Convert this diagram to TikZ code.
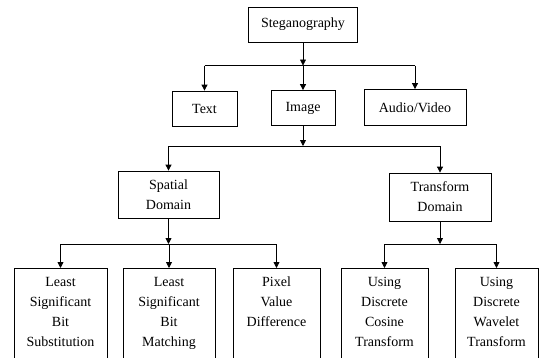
\documentclass[tikz,border=0pt]{standalone}
\usepackage{fontspec}
\setmainfont{Liberation Serif}
\usetikzlibrary{arrows.meta}

\tikzset{
    box/.style={draw, line width=0.8pt, align=center, inner sep=3pt,
        font=\fontsize{14}{20}\selectfont},
    leaf/.style={box, anchor=north, text width=#1, inner ysep=8pt,
        text height=10pt, text depth=72pt},
    arr/.style={-{Triangle[length=6pt,width=6pt]}, line width=0.8pt},
    link/.style={line width=0.8pt}
}

\begin{document}
\begin{tikzpicture}[x=1pt, y=-1pt]
        \useasboundingbox (0,0) rectangle (539,357);

        % first level
        \node[box, minimum width=109pt, minimum height=35pt] (steg) at (303,24.5) {Steganography};
        \node[box, minimum width=65pt, minimum height=35pt] (text) at (204.5,108.5) {Text};
        \node[box, minimum width=64pt, minimum height=35pt] (image) at (303,108) {Image};
        \node[box, minimum width=102pt, minimum height=36pt] (audio) at (415,107.5) {Audio/Video};

        % second level
        \node[box, minimum width=101pt, minimum height=47pt] (spatial) at (168.5,194.5) {Spatial\\Domain};
        \node[box, minimum width=102pt, minimum height=48pt] (transform) at (440,197) {Transform\\Domain};

        % leaves
        \node[leaf=87pt] (lsbs) at (60.5,268) {Least\\Significant\\Bit\\Substitution};
        \node[leaf=86pt] (lsbm) at (169,268) {Least\\Significant\\Bit\\Matching};
        \node[leaf=81pt] (pvd) at (276.5,268) {Pixel\\Value\\Difference};
        \node[leaf=81pt] (dct) at (384.5,268) {Using\\Discrete\\Cosine\\Transform};
        \node[leaf=77pt] (dwt) at (496.5,268) {Using\\Discrete\\Wavelet\\Transform};

        % junctions
        \coordinate (j1) at (303,65.5);
        \coordinate (j2) at (303,146);
        \coordinate (j3) at (168.5,244);
        \coordinate (j4) at (440,244);

        % connectors
        \draw[arr] (steg) -- (j1);
        \draw[link] (text.north |- j1) -- (audio.north |- j1);
        \foreach \n in {text,image,audio}
            \draw[arr] (\n.north |- j1) -- (\n.north);

        \draw[arr] (image) -- (j2);
        \draw[link] (spatial.north |- j2) -- (transform.north |- j2);
        \foreach \n in {spatial,transform}
            \draw[arr] (\n.north |- j2) -- (\n.north);

        \draw[arr] (spatial) -- (j3);
        \draw[link] (lsbs.north |- j3) -- (pvd.north |- j3);
        \foreach \n in {lsbs,lsbm,pvd}
            \draw[arr] (\n.north |- j3) -- (\n.north);

        \draw[arr] (transform) -- (j4);
        \draw[link] (dct.north |- j4) -- (dwt.north |- j4);
        \foreach \n in {dct,dwt}
            \draw[arr] (\n.north |- j4) -- (\n.north);
    \end{tikzpicture}
\end{document}
